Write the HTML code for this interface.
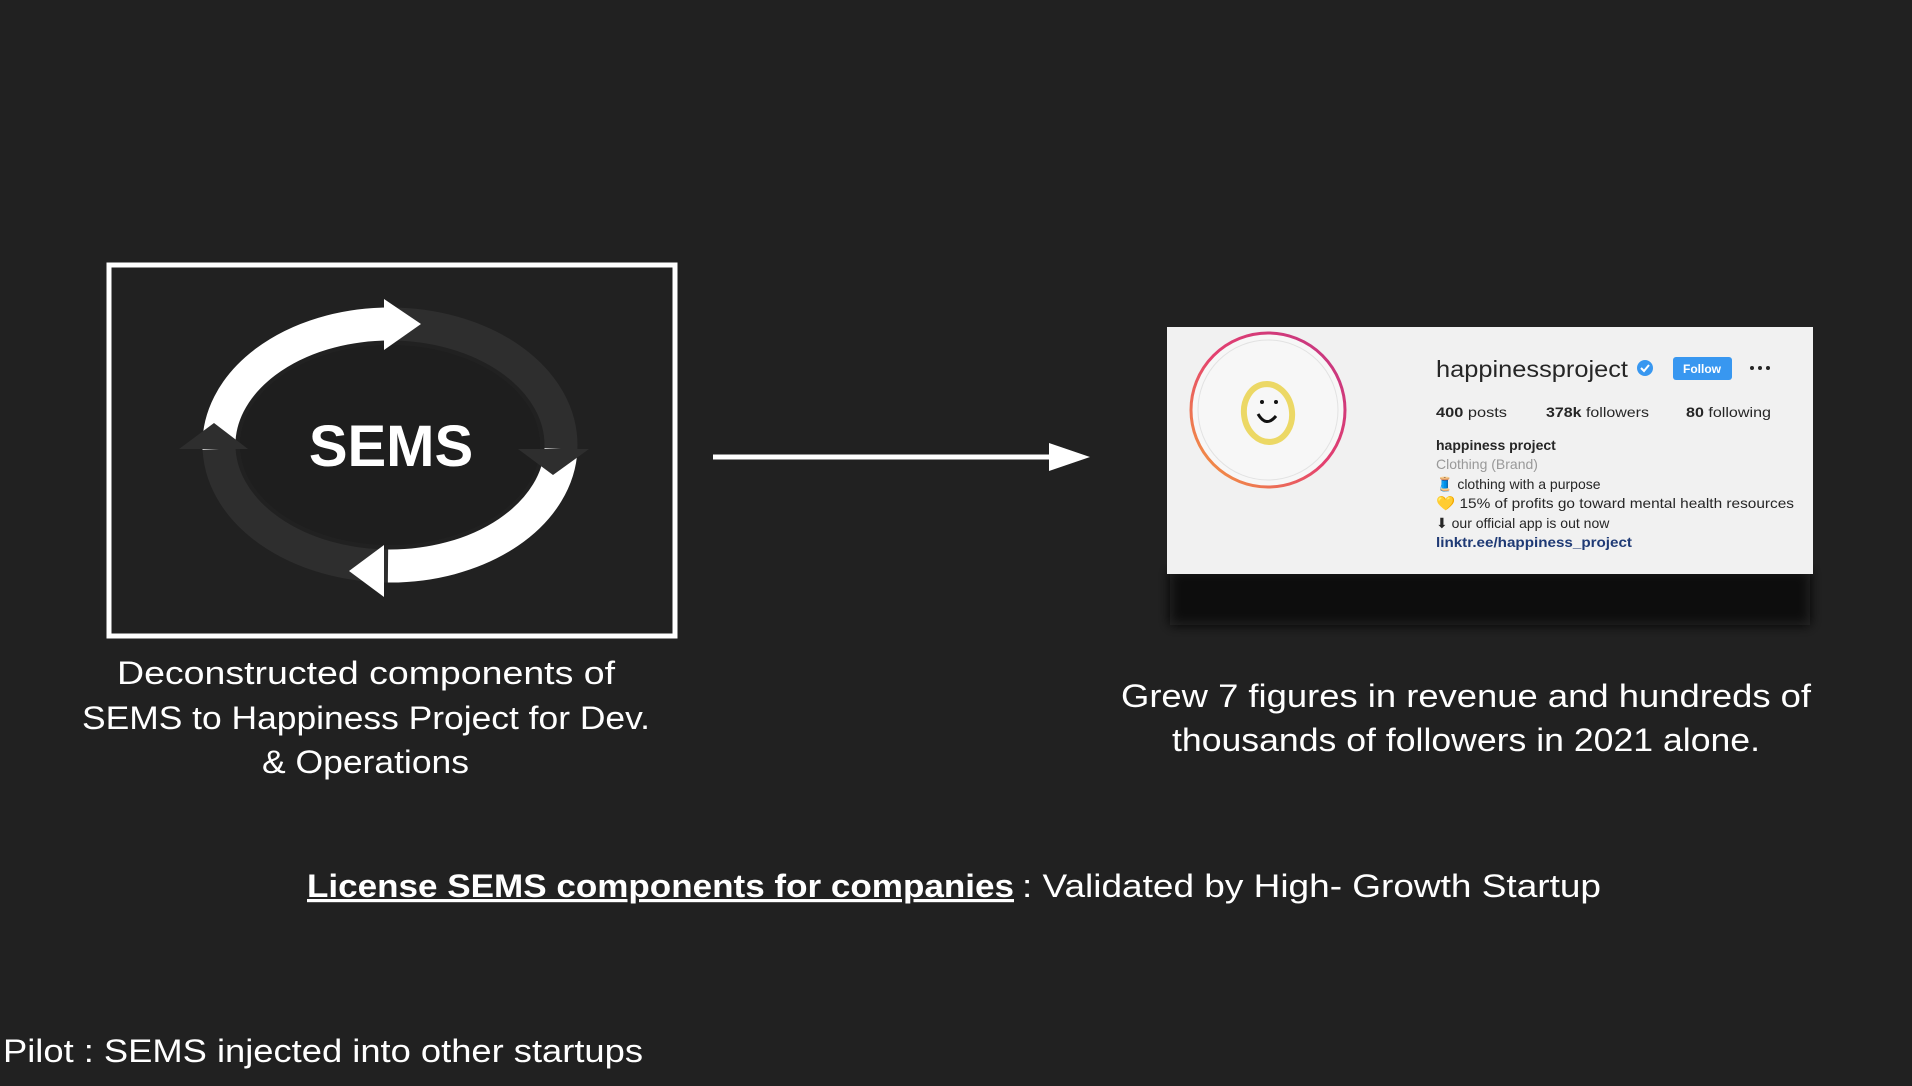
<!DOCTYPE html>
<html><head><meta charset="utf-8"><style>
html,body{margin:0;padding:0;background:#212121;width:1912px;height:1086px;overflow:hidden}
svg{display:block}
</style></head><body>
<svg width="1912" height="1086" viewBox="0 0 1912 1086" xmlns="http://www.w3.org/2000/svg" font-family="Liberation Sans, sans-serif">
<defs>
<linearGradient id="ig" x1="0" y1="1" x2="1" y2="0">
<stop offset="0" stop-color="#f5a33a"/><stop offset="0.5" stop-color="#e4406f"/><stop offset="1" stop-color="#c13584"/>
</linearGradient>
<filter id="sh" x="-10%" y="-10%" width="120%" height="140%"><feGaussianBlur stdDeviation="6"/></filter>
</defs>
<rect width="1912" height="1086" fill="#212121"/>
<!-- SEMS box -->
<rect x="109" y="265" width="566" height="371" fill="#212121" stroke="#fff" stroke-width="5"/>
<ellipse cx="390" cy="445" rx="150" ry="100" fill="#1e1e1e"/>
<ellipse cx="390" cy="445" rx="171" ry="121" fill="none" stroke="#2e2e2e" stroke-width="33"/>
<path d="M219 449 A171 121 0 0 1 386 324" fill="none" stroke="#fff" stroke-width="33"/>
<path d="M561 449 A171 121 0 0 1 388 566" fill="none" stroke="#fff" stroke-width="33"/>
<polygon points="384,299 384,350 421,324" fill="#fff"/>
<polygon points="384,545 384,597 349,571" fill="#fff"/>
<polygon points="179,449 248,449 214,423" fill="#2e2e2e"/>
<polygon points="518,449 589,449 553,475" fill="#2e2e2e"/>
<text x="391" y="466" font-size="58" font-weight="bold" fill="#fff" text-anchor="middle">SEMS</text>
<!-- arrow -->
<line x1="713" y1="457" x2="1060" y2="457" stroke="#fff" stroke-width="5"/>
<polygon points="1049,443 1049,471 1090,457" fill="#fff"/>
<!-- card -->
<rect x="1170" y="570" width="640" height="55" fill="#111" filter="url(#sh)"/>
<rect x="1167" y="327" width="646" height="247" fill="#f1f1f1"/>
<circle cx="1268" cy="410" r="77" fill="#f7f7f7" stroke="url(#ig)" stroke-width="3"/>
<circle cx="1268" cy="410" r="70" fill="none" stroke="#e2e2e2" stroke-width="1"/>
<ellipse cx="1268" cy="413" rx="24" ry="29" fill="none" stroke="#ecd865" stroke-width="6" transform="rotate(-8 1268 413)"/>
<circle cx="1262" cy="402" r="2" fill="#111"/><circle cx="1276" cy="402" r="2" fill="#111"/>
<path d="M1258 414 Q1266 428 1276 416" fill="none" stroke="#111" stroke-width="3"/>
<text x="1436" y="377" font-size="23" fill="#262626" textLength="192" lengthAdjust="spacingAndGlyphs">happinessproject</text>
<circle cx="1645" cy="368" r="8" fill="#3897f0"/>
<path d="M1641 368 l3 3 l5 -6" stroke="#fff" stroke-width="2" fill="none"/>
<rect x="1673" y="357" width="59" height="23" rx="3" fill="#3897f0"/>
<text x="1702" y="373" font-size="12" font-weight="bold" fill="#fff" text-anchor="middle">Follow</text>
<circle cx="1752" cy="368" r="2" fill="#262626"/><circle cx="1760" cy="368" r="2" fill="#262626"/><circle cx="1768" cy="368" r="2" fill="#262626"/>
<g font-size="14" fill="#262626">
<text x="1436" y="417" textLength="71" lengthAdjust="spacingAndGlyphs"><tspan font-weight="bold">400</tspan> posts</text>
<text x="1546" y="417" textLength="103" lengthAdjust="spacingAndGlyphs"><tspan font-weight="bold">378k</tspan> followers</text>
<text x="1686" y="417" textLength="85" lengthAdjust="spacingAndGlyphs"><tspan font-weight="bold">80</tspan> following</text>
<text x="1436" y="450" font-weight="bold">happiness project</text>
<text x="1436" y="469" fill="#999">Clothing (Brand)</text>
<text x="1436" y="489">🧵 clothing with a purpose</text>
<text x="1436" y="508" textLength="358" lengthAdjust="spacingAndGlyphs">💛 15% of profits go toward mental health resources</text>
<text x="1436" y="528">⬇ our official app is out now</text>
<text x="1436" y="547" fill="#1f3a75" font-weight="bold" textLength="196" lengthAdjust="spacingAndGlyphs">linktr.ee/happiness_project</text>
</g>
<!-- captions -->
<g fill="#fff" font-size="32">
<text x="117" y="684" textLength="498" lengthAdjust="spacingAndGlyphs">Deconstructed components of</text>
<text x="82" y="729" textLength="568" lengthAdjust="spacingAndGlyphs">SEMS to Happiness Project for Dev.</text>
<text x="262" y="773" textLength="207" lengthAdjust="spacingAndGlyphs">&amp; Operations</text>
<text x="1121" y="707" textLength="690" lengthAdjust="spacingAndGlyphs">Grew 7 figures in revenue and hundreds of</text>
<text x="1172" y="751" textLength="588" lengthAdjust="spacingAndGlyphs">thousands of followers in 2021 alone.</text>
<text x="307" y="897" font-weight="bold" text-decoration="underline" textLength="707" lengthAdjust="spacingAndGlyphs">License SEMS components for companies</text>
<text x="1022" y="897" textLength="579" lengthAdjust="spacingAndGlyphs">: Validated by High- Growth Startup</text>
<text x="3" y="1062" textLength="640" lengthAdjust="spacingAndGlyphs">Pilot : SEMS injected into other startups</text>
</g>
</svg>
</body></html>
